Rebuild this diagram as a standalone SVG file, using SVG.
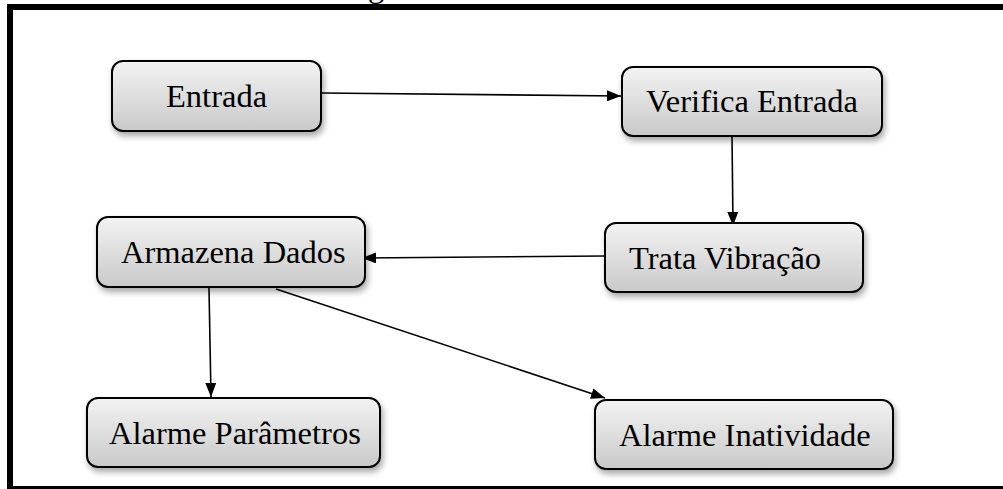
<svg xmlns="http://www.w3.org/2000/svg" width="1003" height="489" viewBox="0 0 1003 489">
  <style>
    .box { fill: url(#boxFill); stroke: #000; stroke-width: 2; filter: url(#shadow); }
    .label { font-family: "Liberation Serif", "Times New Roman", serif; font-size: 32.5px; fill: #000; }
    .edge { stroke: #000; stroke-width: 1.6; fill: none; marker-end: url(#arrow); }
    .frame { fill: none; stroke: #000; stroke-width: 6; }
  </style>
  <defs>
    <linearGradient id="boxFill" x1="0" y1="0" x2="0" y2="1">
      <stop offset="0" stop-color="#f3f3f3"/>
      <stop offset="1" stop-color="#c9c9c9"/>
    </linearGradient>
    <filter id="shadow" x="-10%" y="-20%" width="125%" height="150%">
      <feDropShadow dx="2" dy="4" stdDeviation="3" flood-color="#000" flood-opacity="0.35"/>
    </filter>
    <marker id="arrow" viewBox="0 0 14 11" refX="14" refY="5.5" markerWidth="14" markerHeight="11" markerUnits="userSpaceOnUse" orient="auto">
      <path d="M0,0 L14,5.5 L0,11 Z" fill="#000"/>
    </marker>
  </defs>

  <rect width="1003" height="489" fill="#fff"/>

  <!-- caption above the frame, mostly cut off -->
  <text class="label" x="368" y="-3" font-size="26">g</text>

  <!-- outer frame -->
  <rect class="frame" x="10" y="7" width="996" height="482"/>

  <g id="connectors">
    <line class="edge" x1="321" y1="93" x2="621" y2="96"/>
    <line class="edge" x1="732" y1="136" x2="733" y2="226"/>
    <line class="edge" x1="605" y1="256" x2="362" y2="258"/>
    <line class="edge" x1="209" y1="288" x2="211" y2="397"/>
    <line class="edge" x1="276" y1="289" x2="605" y2="398"/>
  </g>

  <g id="entrada">
    <rect class="box" x="112" y="61" width="209" height="70" rx="11"/>
    <text class="label" x="166" y="107">Entrada</text>
  </g>

  <g id="verifica-entrada">
    <rect class="box" x="622" y="67" width="260" height="69" rx="11"/>
    <text class="label" x="646" y="112">Verifica Entrada</text>
  </g>

  <g id="trata-vibracao">
    <rect class="box" x="605" y="223" width="258" height="69" rx="11"/>
    <text class="label" x="629" y="269">Trata Vibração</text>
  </g>

  <g id="armazena-dados">
    <rect class="box" x="97" y="217" width="268" height="70" rx="11"/>
    <text class="label" x="121" y="263">Armazena Dados</text>
  </g>

  <g id="alarme-parametros">
    <rect class="box" x="87" y="398" width="293" height="69" rx="11"/>
    <text class="label" x="109" y="444">Alarme Parâmetros</text>
  </g>

  <g id="alarme-inatividade">
    <rect class="box" x="595" y="400" width="298" height="69" rx="11"/>
    <text class="label" x="619" y="446">Alarme Inatividade</text>
  </g>
</svg>
